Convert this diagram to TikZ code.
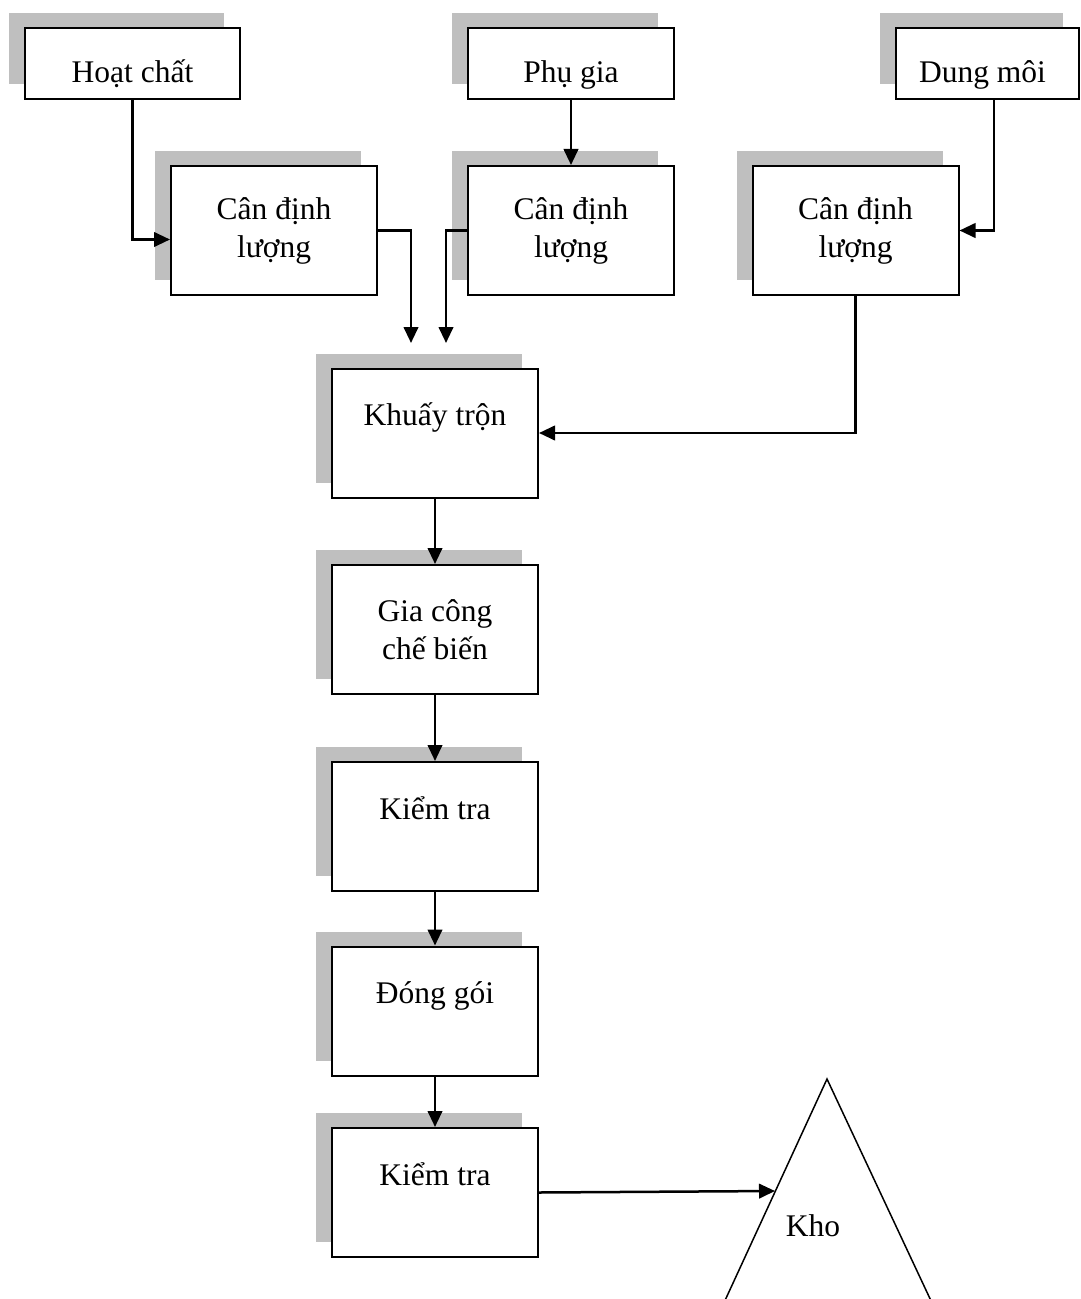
\documentclass[tikz,border=0pt]{standalone}
\usepackage{fontspec}
\setmainfont{Liberation Serif}
\usetikzlibrary{arrows.meta, shadows, calc, positioning}

\tikzset{
	boxshadow/.style={drop shadow={opacity=1, fill=black!25, shadow xshift=-6.4pt, shadow yshift=6pt}},
	box/.style={draw, fill=white, line width=0.8pt, inner sep=0pt, align=center, boxshadow},
	proc/.style={box, minimum width=82.4pt, minimum height=51.6pt},
	procone/.style={proc, text height=22.8pt, text depth=28.8pt},
	src/.style={box, minimum height=28.4pt, text height=22pt, text depth=6.4pt},
	arr/.style={line width=1pt, -{Triangle[length=6.4pt,width=5.8pt]}}
}

\begin{document}
\begin{tikzpicture}[x=0.4pt, y=-0.4pt, font=\fontsize{12.6}{15.2}\selectfont]
		\useasboundingbox (0,0) rectangle (1080,1299);

		% Nguyen lieu
		\node[src, minimum width=86pt] (hoat) at (132.5,63.5) {Hoạt chất};
		\node[src, minimum width=82.4pt] (phu) at (571,63.5) {Phụ gia};
		\node[src, minimum width=73.2pt] (dung) at (987.5,63.5) {Dung môi\hspace{4pt}};

		% Can dinh luong
		\node[proc] (can1) at (274,230.5) {Cân định\\lượng};
		\node[proc] (can2) at (571,230.5) {Cân định\\lượng};
		\node[proc] (can3) at (855.5,230.5) {Cân định\\lượng};

		% Quy trinh chinh
		\node[procone] (khuay) at (435,433) {Khuấy trộn};
		\node[proc] (giacong) at (435,629.5) {Gia công\\chế biến};
		\node[procone] (kiemtra1) at (435,826.5) {Kiểm tra};
		\node[procone] (donggoi) at (435,1011) {Đóng gói};
		\node[procone] (kiemtra2) at (435,1192.5) {Kiểm tra};

		% Kho
		\draw[line width=0.6pt] (827,1079) -- (716,1320) -- (940,1320) -- cycle;
		\node (kho) at (813,1226) {Kho};

		\coordinate (in1) at (411,343);
		\coordinate (in2) at (446,343);
		\coordinate (khoin) at (775,1191);

		% Mui ten
		\draw[arr] (hoat.south) |- ([yshift=-3.6pt]can1.west);
		\draw[arr] (phu.south) -- (can2.north);
		\draw[arr] ([xshift=2.6pt]dung.south) |- (can3.east);
		\draw[arr] (can1.east) -| (in1);
		\draw[arr] (can2.west) -| (in2);
		\draw[arr] (can3.south) |- (khuay.east);
		\draw[arr] (khuay.south) -- (giacong.north);
		\draw[arr] (giacong.south) -- (kiemtra1.north);
		\draw[arr] (kiemtra1.south) -- (donggoi.north);
		\draw[arr] (donggoi.south) -- (kiemtra2.north);
		\draw[arr] (kiemtra2.east) -- (khoin);
	\end{tikzpicture}
\end{document}
